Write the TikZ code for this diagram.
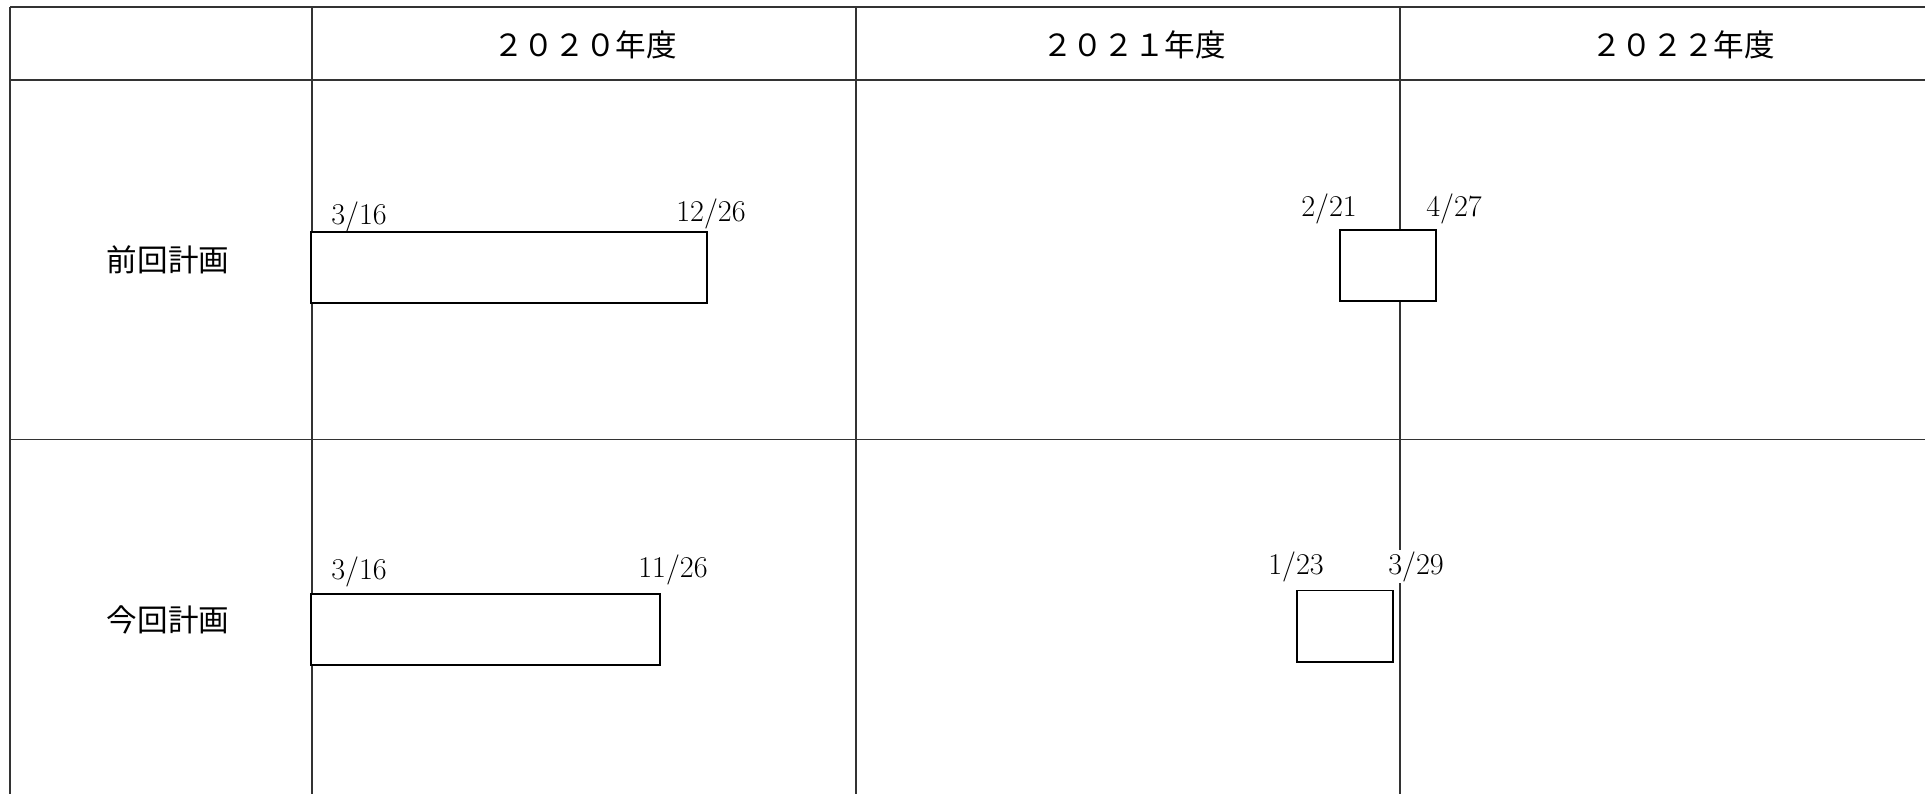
\documentclass[tikz,border=0pt]{standalone}
\usepackage{fontspec}
\newfontfamily\jpfont{Noto Sans CJK JP}
\begin{document}
\begin{tikzpicture}[x=0.02cm, y=-0.02cm,
    grid/.style = {draw=black!80, line width=0.75pt},
    main/.style = {draw=none, font=\jpfont\fontsize{17.4}{20}\selectfont},
    bar/.style = {draw=black, fill=white, line width=1.1pt, anchor=north west, inner sep=0pt, minimum height=1.43cm},
    date/.style = {anchor=base, inner sep=1pt, font=\fontsize{17.2}{20}\selectfont}]
    \useasboundingbox (0,0) rectangle (1925,794);

    % table
    \draw[grid] (10,7) -- (1925,7);
    \draw[grid] (10,80) -- (1925,80);
    \draw[grid] (10,439.5) -- (1925,439.5);
    \foreach \x in {10,312,856,1400}
        \draw[grid] (\x,7) -- (\x,794);

    \node[main] (1) at (585,45)  {２０２０年度};
    \node[main] (2) at (1134,45) {２０２１年度};
    \node[main] (3) at (1683,45) {２０２２年度};
    \node[main] (4) at (168,260) {前回計画};
    \node[main] (5) at (168,620) {今回計画};

    % bars
    \node[bar, minimum width=7.92cm] (b1) at (310,231)    {};
    \node[bar, minimum width=1.93cm] (b2) at (1339,229)   {};
    \node[bar, minimum width=6.99cm] (b3) at (310,593)    {};
    \node[bar, minimum width=1.93cm] (b4) at (1296,589.5) {};

    \node[date] (d1) at (359,224)  {3/16};
    \node[date] (d2) at (711,221)  {12/26};
    \node[date] (d3) at (1329,216) {2/21};
    \node[date] (d4) at (1454,216) {4/27};
    \node[date] (d5) at (359,579)  {3/16};
    \node[date] (d6) at (673,577)  {11/26};
    \node[date] (d7) at (1296,574) {1/23};
    \node[date, fill=white] (d8) at (1416,574) {3/29};
\end{tikzpicture}
\end{document}
